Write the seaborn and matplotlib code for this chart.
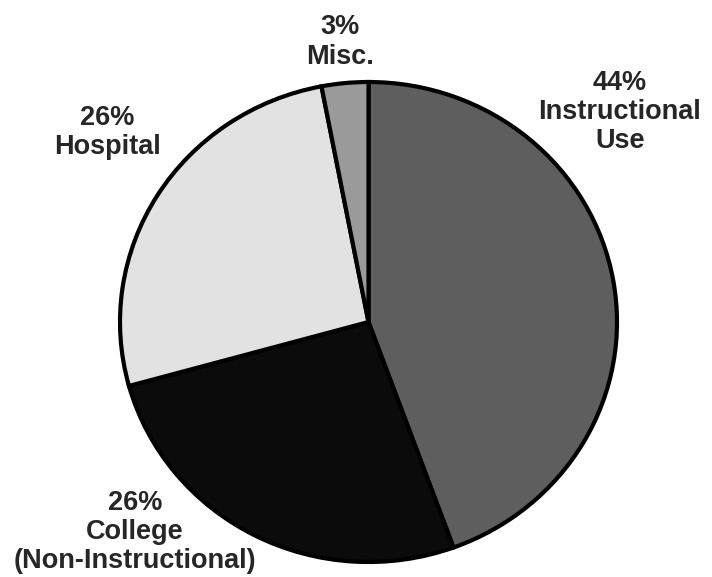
import matplotlib
matplotlib.use("Agg")
import matplotlib.pyplot as plt
import seaborn as sns

sns.set_style("white")
plt.rcParams['font.family'] = ['Liberation Sans', 'DejaVu Sans']

# shares of use, clockwise from 12 o'clock
categories = ['Instructional\nUse', 'College\n(Non-Instructional)', 'Hospital', 'Misc.']
shares = [44, 26, 26, 3]
shades = ['#5e5e5e', '#0b0b0b', '#e2e2e2', '#9a9a9a']

# label block centres in pixels (x, y from top)
label_pos = [(620, 112), (135, 532), (107, 132), (340, 42)]

W, H = 712, 577
fig = plt.figure(figsize=(W / 100, H / 100), dpi=100)
# pie is slightly wider than tall in the scan
ax = fig.add_axes([120 / W, (H - 562) / H, 497 / W, 480 / H])

ax.pie(shares, colors=shades, startangle=90, counterclock=False,
       wedgeprops=dict(edgecolor='black', linewidth=3))
ax.set_aspect('auto')
ax.set_xlim(-1.0, 1.0)
ax.set_ylim(-1.0, 1.0)
ax.axis('off')

for name, p, (x, y) in zip(categories, shares, label_pos):
    fig.text(x / W, 1 - y / H, f"{p}%\n{name}", ha='center', va='center',
             fontsize=19.5, fontweight='bold', linespacing=1.15)

fig.savefig('out.png', dpi=100, facecolor='white')
